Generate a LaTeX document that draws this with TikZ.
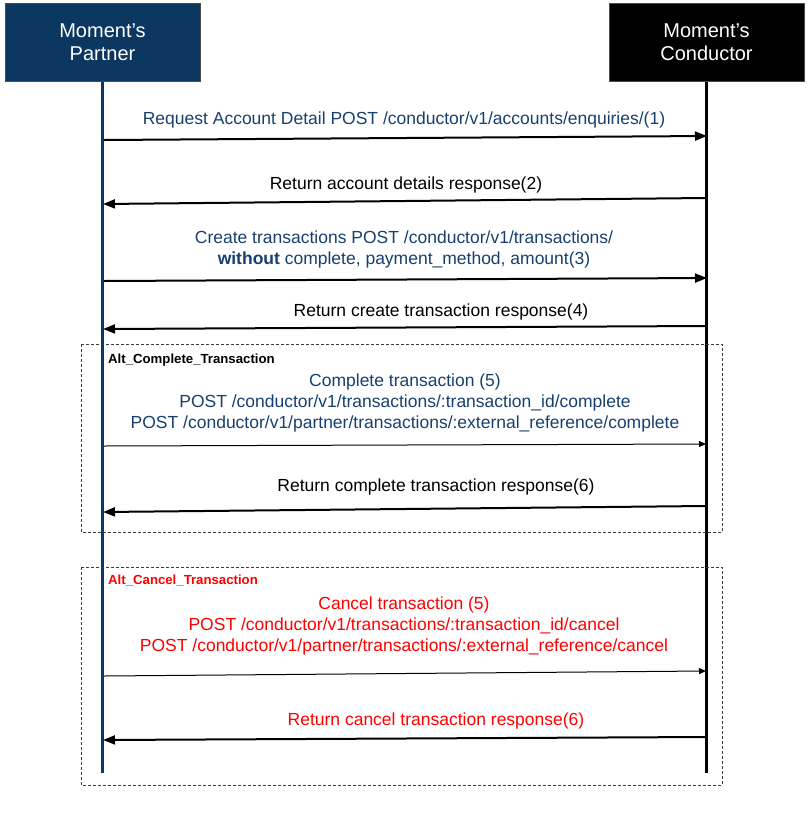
\documentclass[tikz,border=0pt]{standalone}
\usepackage{fontspec}
\setmainfont{Liberation Sans}
\usetikzlibrary{arrows.meta}
\definecolor{boxblue}{RGB}{11,55,97}
\definecolor{txtblue}{RGB}{23,64,110}
\definecolor{alred}{RGB}{255,0,0}
\definecolor{dashgray}{RGB}{60,60,60}
\tikzset{
  actor/.style={draw=black!70,line width=0.8pt,minimum width=195pt,minimum height=78pt,inner sep=0pt,text=white,align=center,font=\fontsize{20}{25}\selectfont},
  msg/.style={anchor=base,align=center,inner sep=0pt,font=\fontsize{17.5}{21}\selectfont},
  altlabel/.style={anchor=base west,inner sep=0pt,font=\fontsize{13.2}{15}\selectfont\bfseries},
  thickarrow/.style={line width=2pt,-{Triangle[length=12pt,width=9pt]}},
  thinarrow/.style={line width=1pt,-{Triangle[length=7pt,width=6pt]}},
  altbox/.style={draw=dashgray,line width=0.7pt,dash pattern=on 3pt off 2pt}
}
\begin{document}
\begin{tikzpicture}[x=1pt,y=-1pt]
\useasboundingbox (0,0) rectangle (809,815);
% lifelines
\coordinate (pt) at (102,81); \coordinate (pb) at (102,773);
\coordinate (ct) at (706,81); \coordinate (cb) at (706,773);
\draw[boxblue,line width=3pt] (pt) -- (pb);
\draw[black,line width=3pt] (ct) -- (cb);
% actors
\node[actor,fill=boxblue] (partner) at (102.5,42) {\raisebox{-2pt}{Moment’s}\\Partner};
\node[actor,fill=black] (conductor) at (706.5,42) {\raisebox{-2pt}{Moment’s}\\Conductor};
% alt boxes
\draw[altbox] (81,344) rectangle (722,532);
\draw[altbox] (81,567) rectangle (722,785);
\node[altlabel,text=black] (altc) at (108,363.5) {Alt\_Complete\_Transaction};
\node[altlabel,text=alred] (altx) at (108,584.5) {Alt\_Cancel\_Transaction};
% message 1
\node[msg,text=txtblue] (m1) at (404,124) {Request Account Detail POST /conductor/v1/accounts/enquiries/(1)};
\coordinate (a1s) at (104,140); \coordinate (a1e) at (707,136);
\draw[thickarrow] (a1s) -- (a1e);
% message 2
\node[msg,text=black] (m2) at (406,189) {Return account details response(2)};
\coordinate (a2s) at (706,198); \coordinate (a2e) at (103,204);
\draw[thickarrow] (a2s) -- (a2e);
% message 3
\node[msg,text=txtblue] (m3) at (404,264) {Create transactions POST /conductor/v1/transactions/\\\textbf{without} complete, payment\_method, amount(3)};
\coordinate (a3s) at (104,281); \coordinate (a3e) at (707,278);
\draw[thickarrow] (a3s) -- (a3e);
% message 4
\node[msg,text=black] (m4) at (441,316) {Return create transaction response(4)};
\coordinate (a4s) at (706,326); \coordinate (a4e) at (103,329);
\draw[thickarrow] (a4s) -- (a4e);
% message 5 complete
\node[msg,text=txtblue] (m5) at (405,428) {Complete transaction (5)\\POST /conductor/v1/transactions/:transaction\_id/complete\\POST /conductor/v1/partner/transactions/:external\_reference/complete};
\coordinate (a5s) at (104,446); \coordinate (a5e) at (706,444);
\draw[thinarrow] (a5s) -- (a5e);
% message 6 complete
\node[msg,text=black] (m6) at (436,491) {Return complete transaction response(6)};
\coordinate (a6s) at (706,506); \coordinate (a6e) at (103,512);
\draw[thickarrow] (a6s) -- (a6e);
% message 5 cancel
\node[msg,text=alred] (m7) at (404,651) {Cancel transaction (5)\\POST /conductor/v1/transactions/:transaction\_id/cancel\\POST /conductor/v1/partner/transactions/:external\_reference/cancel};
\coordinate (a7s) at (104,676); \coordinate (a7e) at (706,671);
\draw[thinarrow] (a7s) -- (a7e);
% message 6 cancel
\node[msg,text=alred] (m8) at (436,725) {Return cancel transaction response(6)};
\coordinate (a8s) at (706,737); \coordinate (a8e) at (103,740);
\draw[thickarrow] (a8s) -- (a8e);
\end{tikzpicture}
\end{document}
